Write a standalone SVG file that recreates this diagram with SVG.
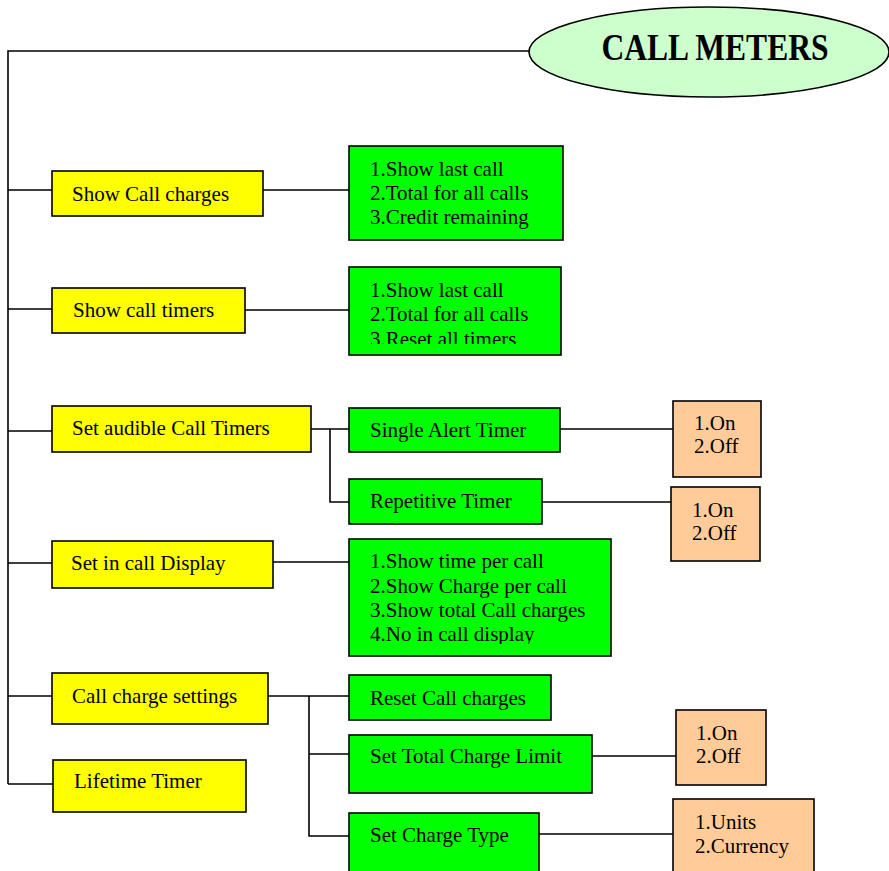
<svg xmlns="http://www.w3.org/2000/svg" width="889" height="871" viewBox="0 0 889 871">
<defs>
<style>
.t{font-family:"Liberation Serif","Times New Roman",serif;font-size:21px;fill:#000}
.y{fill:#ffff00;stroke:#000;stroke-width:1.6}
.g{fill:#00ff00;stroke:#000;stroke-width:1.6}
.o{fill:#ffcc99;stroke:#000;stroke-width:1.6}
.c{fill:none;stroke:#000;stroke-width:1.6}
</style>
<clipPath id="clip2"><rect x="349" y="267" width="212" height="77"/></clipPath>
<clipPath id="clip3"><rect x="349" y="539" width="262" height="105"/></clipPath>
</defs>
<rect width="889" height="871" fill="#fff"/>
<g id="connectors">
<path class="c" d="M530 51 H8 V784"/>
<path class="c" d="M8 190 H52 M263 190 H349"/>
<path class="c" d="M8 309 H52 M245 310 H349"/>
<path class="c" d="M8 431 H52 M311 429 H349 M330 429 V502 H349 M560 429 H673 M542 502 H671"/>
<path class="c" d="M8 563 H52 M273 562 H349"/>
<path class="c" d="M8 696 H52 M268 696 H349 M309 696 V836 H349 M309 754 H349 M592 756 H676 M539 834 H673"/>
<path class="c" d="M8 784 H53"/>
</g>
<g id="root">
<ellipse cx="709" cy="52" rx="180" ry="45" fill="#ccffcc" stroke="#000" stroke-width="1.6"/>
<text x="715" y="60" text-anchor="middle" font-family="Liberation Serif,'Times New Roman',serif" font-weight="bold" font-size="37" textLength="227" lengthAdjust="spacingAndGlyphs">CALL METERS</text>
</g>
<g id="show-call-charges">
<rect class="y" x="52" y="171" width="211" height="45"/>
<text class="t" x="72" y="201">Show Call charges</text>
</g>
<g id="show-call-charges-options">
<rect class="g" x="349" y="146" width="214" height="94"/>
<text class="t" x="370" y="176">1.Show last call</text>
<text class="t" x="370" y="200">2.Total for all calls</text>
<text class="t" x="370" y="224">3.Credit remaining</text>
</g>
<g id="show-call-timers">
<rect class="y" x="52" y="288" width="193" height="45"/>
<text class="t" x="73" y="317">Show call timers</text>
</g>
<g id="show-call-timers-options">
<rect class="g" x="349" y="267" width="212" height="88"/>
<g clip-path="url(#clip2)">
<text class="t" x="370" y="297">1.Show last call</text>
<text class="t" x="370" y="321">2.Total for all calls</text>
<text class="t" x="370" y="346">3.Reset all timers</text>
</g>
</g>
<g id="set-audible-call-timers">
<rect class="y" x="52" y="406" width="259" height="46"/>
<text class="t" x="72" y="435">Set audible Call Timers</text>
</g>
<g id="single-alert-timer">
<rect class="g" x="349" y="408" width="211" height="44"/>
<text class="t" x="370" y="437">Single Alert Timer</text>
</g>
<g id="single-alert-options">
<rect class="o" x="673" y="401" width="88" height="76"/>
<text class="t" x="694" y="430">1.On</text>
<text class="t" x="694" y="453">2.Off</text>
</g>
<g id="repetitive-timer">
<rect class="g" x="349" y="479" width="193" height="45"/>
<text class="t" x="370" y="508">Repetitive Timer</text>
</g>
<g id="repetitive-options">
<rect class="o" x="671" y="487" width="89" height="74"/>
<text class="t" x="692" y="517">1.On</text>
<text class="t" x="692" y="540">2.Off</text>
</g>
<g id="set-in-call-display">
<rect class="y" x="52" y="541" width="221" height="47"/>
<text class="t" x="71" y="570">Set in call Display</text>
</g>
<g id="set-in-call-display-options">
<rect class="g" x="349" y="539" width="262" height="117"/>
<g clip-path="url(#clip3)">
<text class="t" x="370" y="568">1.Show time per call</text>
<text class="t" x="370" y="593">2.Show Charge per call</text>
<text class="t" x="370" y="617">3.Show total Call charges</text>
<text class="t" x="370" y="641">4.No in call display</text>
</g>
</g>
<g id="call-charge-settings">
<rect class="y" x="52" y="673" width="216" height="51"/>
<text class="t" x="72" y="703">Call charge settings</text>
</g>
<g id="reset-call-charges">
<rect class="g" x="349" y="675" width="202" height="45"/>
<text class="t" x="370" y="705">Reset Call charges</text>
</g>
<g id="set-total-charge-limit">
<rect class="g" x="349" y="735" width="243" height="58"/>
<text class="t" x="370" y="763">Set Total Charge Limit</text>
</g>
<g id="charge-limit-options">
<rect class="o" x="676" y="710" width="90" height="75"/>
<text class="t" x="696" y="740">1.On</text>
<text class="t" x="696" y="763">2.Off</text>
</g>
<g id="lifetime-timer">
<rect class="y" x="53" y="760" width="193" height="52"/>
<text class="t" x="74" y="788">Lifetime Timer</text>
</g>
<g id="set-charge-type">
<rect class="g" x="349" y="813" width="190" height="70"/>
<text class="t" x="370" y="842">Set Charge Type</text>
</g>
<g id="charge-type-options">
<rect class="o" x="673" y="799" width="141" height="84"/>
<text class="t" x="695" y="829">1.Units</text>
<text class="t" x="695" y="853">2.Currency</text>
</g>
</svg>
